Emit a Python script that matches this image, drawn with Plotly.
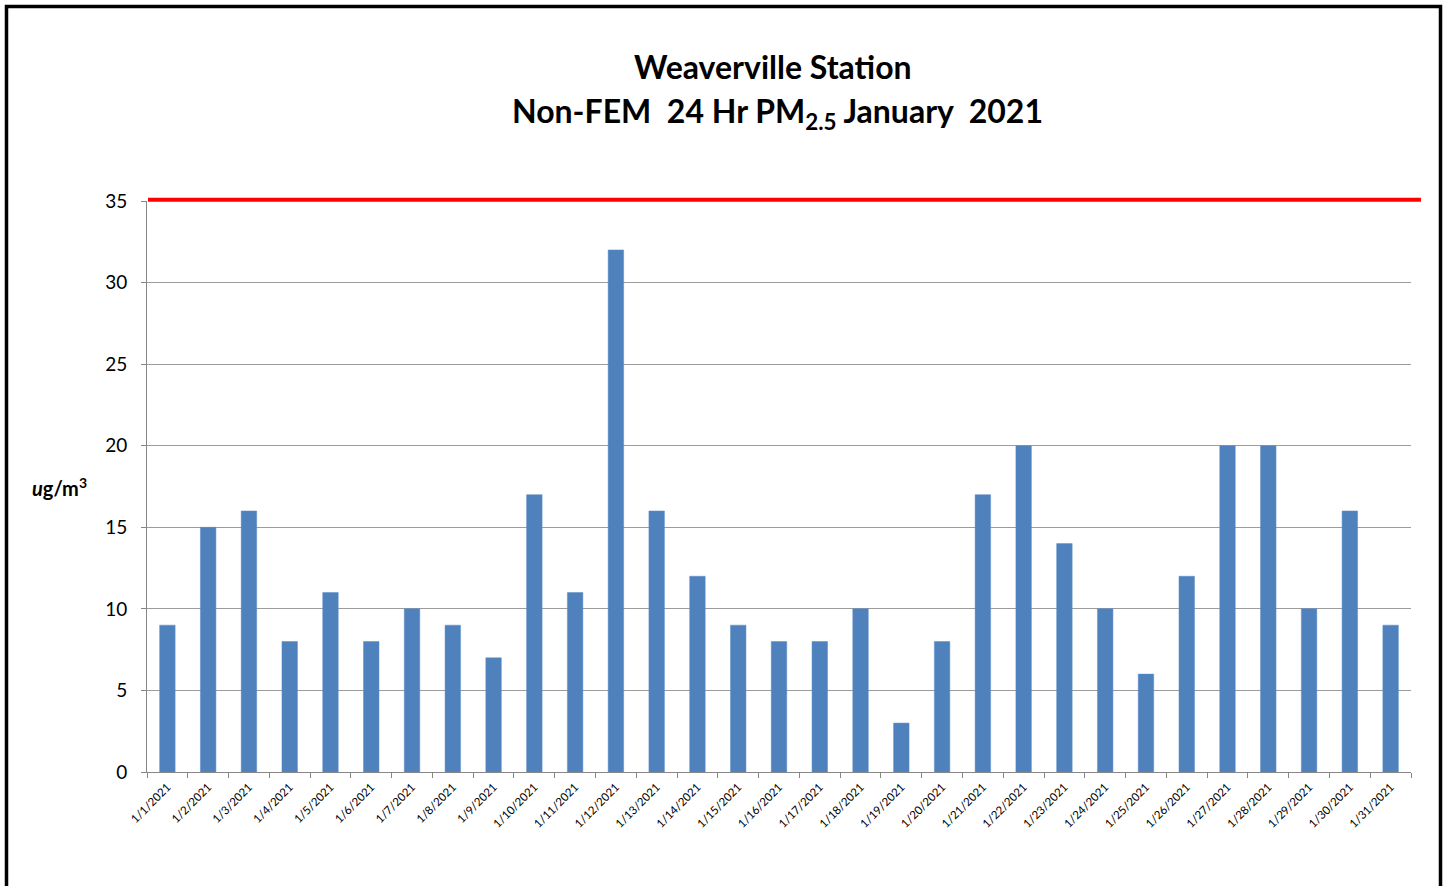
import plotly.graph_objects as go

dates = [f"1/{d}/2021" for d in range(1, 32)]
pm25 = [9, 15, 16, 8, 11, 8, 10, 9, 7, 17, 11, 32, 16, 12, 9, 8, 8, 10, 3, 8,
        17, 20, 14, 10, 6, 12, 20, 20, 10, 16, 9]
standard = 35
y_max = 35
y_ticks = [0, 5, 10, 15, 20, 25, 30, 35]

L, R, T, B = 147, 1411, 201, 772
W, H = 1449, 886
pw, ph = R - L, B - T

def px_x(p):
    return (p - L) / pw

def px_y(p):
    return (B - p) / ph

fig = go.Figure()
fig.add_trace(go.Bar(
    x=dates, y=pm25,
    marker=dict(color="#4F81BD", line=dict(color="#5B8CC8", width=0.5)),
    hoverinfo="x+y",
))

fig.update_layout(
    width=W, height=H,
    margin=dict(l=L, r=W - R, t=T, b=H - B),
    paper_bgcolor="white", plot_bgcolor="white",
    showlegend=False,
    bargap=0.62,
    font=dict(family="Lato, Open Sans, sans-serif", color="black"),
    xaxis=dict(
        type="category",
        tickangle=-45,
        tickfont=dict(size=11.5, color="black"),
        ticks="outside", ticklen=5, tickcolor="#868686",
        tickson="boundaries",
        ticklabelstandoff=3,
        showline=True, linecolor="#868686", linewidth=1,
        showgrid=False,
    ),
    yaxis=dict(
        range=[0, y_max],
        tickvals=y_ticks,
        tickfont=dict(size=19, color="black"),
        ticks="outside", ticklen=5, tickcolor="#868686",
        ticklabelstandoff=10,
        showline=True, linecolor="#868686", linewidth=1,
        showgrid=True, gridcolor="#9C9C9C", gridwidth=1,
        zeroline=False,
    ),
    shapes=[
        dict(type="line", xref="paper", yref="paper",
             x0=px_x(148), x1=px_x(1421),
             y0=standard / y_max + 0.002, y1=standard / y_max + 0.002,
             line=dict(color="#FF0000", width=4)),
        dict(type="rect", xref="paper", yref="paper",
             x0=px_x(6.5), x1=px_x(1440.5), y0=px_y(6.5), y1=px_y(895),
             line=dict(color="black", width=3.5), fillcolor="rgba(0,0,0,0)"),
    ],
    annotations=[
        dict(text="<b>Weaverville Station</b>", xref="paper", yref="paper",
             x=px_x(773), y=px_y(67), showarrow=False,
             font=dict(size=32, color="black"), xanchor="center", yanchor="middle"),
        dict(text="<b>Non-FEM  24 Hr PM<sub>2.5</sub> January  2021</b>",
             xref="paper", yref="paper",
             x=px_x(777), y=px_y(113), showarrow=False,
             font=dict(size=32, color="black"), xanchor="center", yanchor="middle"),
        dict(text="<b><i>u</i>g/m<sup>3</sup></b>", xref="paper", yref="paper",
             x=px_x(60), y=px_y(487), showarrow=False,
             font=dict(size=20, color="black"), xanchor="center", yanchor="middle"),
    ],
)

fig.write_html("out.html")
